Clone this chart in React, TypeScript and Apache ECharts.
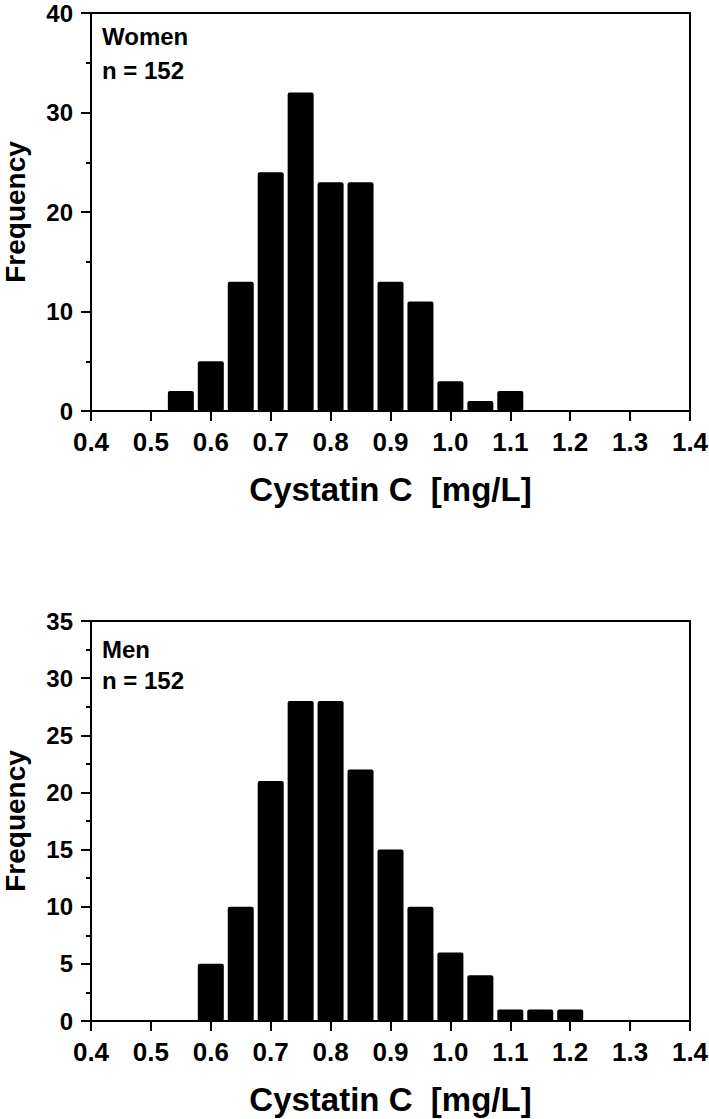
import React, { useEffect, useRef } from "react";
import * as echarts from "echarts";

const womenBins = [0.55, 0.6, 0.65, 0.7, 0.75, 0.8, 0.85, 0.9, 0.95, 1.0, 1.05, 1.1];
const womenCounts = [2, 5, 13, 24, 32, 23, 23, 13, 11, 3, 1, 2];
const menBins = [0.6, 0.65, 0.7, 0.75, 0.8, 0.85, 0.9, 0.95, 1.0, 1.05, 1.1, 1.15, 1.2];
const menCounts = [5, 10, 21, 28, 28, 22, 15, 10, 6, 4, 1, 1, 1];
const panelLabels = ["Women", "Men"];
const sampleLabels = ["n = 152", "n = 152"];
const xAxisTitle = "Cystatin C  [mg/L]";
const yAxisTitle = "Frequency";
const yMax = [40, 35];
const yInterval = [10, 5];

const FONT = "'Liberation Sans', Arial, sans-serif";

export default function App() {
  const ref = useRef<HTMLDivElement>(null);
  useEffect(() => {
    document.body.style.margin = "0";
    const chart = echarts.init(ref.current!, undefined, { renderer: "svg" });
    const grids = [
      { left: 91, top: 13, width: 599, height: 398, containLabel: false, outerBoundsMode: "none" },
      { left: 91, top: 621, width: 599, height: 400, containLabel: false, outerBoundsMode: "none" },
    ];
    const mk = (i: number) => ({
      type: "value",
      gridIndex: i,
      position: "bottom",
      min: 0.4,
      max: 1.4,
      interval: 0.1,
      name: xAxisTitle,
      nameLocation: "middle",
      nameGap: 62,
      nameTextStyle: { fontFamily: FONT, fontWeight: "bold", fontSize: 33, color: "#000" },
      axisLine: { show: true, onZero: false, lineStyle: { color: "#000", width: 2 } },
      axisTick: { show: true, inside: false, length: 10, lineStyle: { color: "#000", width: 2 } },
      splitLine: { show: false },
      axisLabel: {
        show: true,
        inside: false,
        margin: 18,
        fontFamily: FONT,
        fontWeight: "bold",
        fontSize: 26,
        color: "#000",
        formatter: (v: number) => v.toFixed(1),
      },
    });
    const my = (i: number) => ({
      type: "value",
      gridIndex: i,
      position: "left",
      min: 0,
      max: yMax[i],
      interval: yInterval[i],
      name: yAxisTitle,
      nameLocation: "middle",
      nameRotate: 90,
      nameGap: 62,
      nameTextStyle: { fontFamily: FONT, fontWeight: "bold", fontSize: 28, color: "#000" },
      axisLine: { show: true, onZero: false, lineStyle: { color: "#000", width: 2 } },
      axisTick: { show: true, inside: false, length: 10, lineStyle: { color: "#000", width: 2 } },
      minorTick: { show: true, splitNumber: 2, length: 5, lineStyle: { color: "#000", width: 2 } },
      splitLine: { show: false },
      axisLabel: {
        show: true,
        inside: false,
        margin: 18,
        fontFamily: FONT,
        fontWeight: "bold",
        fontSize: 24,
        color: "#000",
      },
    });
    const bins = [womenBins, menBins];
    const counts = [womenCounts, menCounts];
    const labelPos = [
      [36.7, 70],
      [649, 680.5],
    ];
    const graphic: any[] = [];
    grids.forEach((g, i) => {
      graphic.push({
        type: "rect",
        shape: { x: g.left, y: g.top, width: g.width, height: g.height },
        style: { fill: "none", stroke: "#000", lineWidth: 2 },
        silent: true,
        z: 0,
      });
      graphic.push({
        type: "text",
        x: 102,
        y: labelPos[i][0],
        style: { text: panelLabels[i], font: `bold 24px ${FONT}`, fill: "#000", textVerticalAlign: "middle" },
      });
      graphic.push({
        type: "text",
        x: 102,
        y: labelPos[i][1],
        style: { text: sampleLabels[i], font: `bold 24px ${FONT}`, fill: "#000", textVerticalAlign: "middle" },
      });
    });
    chart.setOption({
      animation: false,
      grid: grids,
      xAxis: [mk(0), mk(1)],
      yAxis: [my(0), my(1)],
      graphic,
      series: [0, 1].map((i) => ({
        type: "bar",
        xAxisIndex: i,
        yAxisIndex: i,
        barWidth: 26,
        data: bins[i].map((b, k) => [b, counts[i][k]]),
        itemStyle: { color: "#000", borderRadius: 2 },
      })),
    });
    return () => chart.dispose();
  }, []);
  return <div ref={ref} style={{ width: 709, height: 1119 }} />;
}
